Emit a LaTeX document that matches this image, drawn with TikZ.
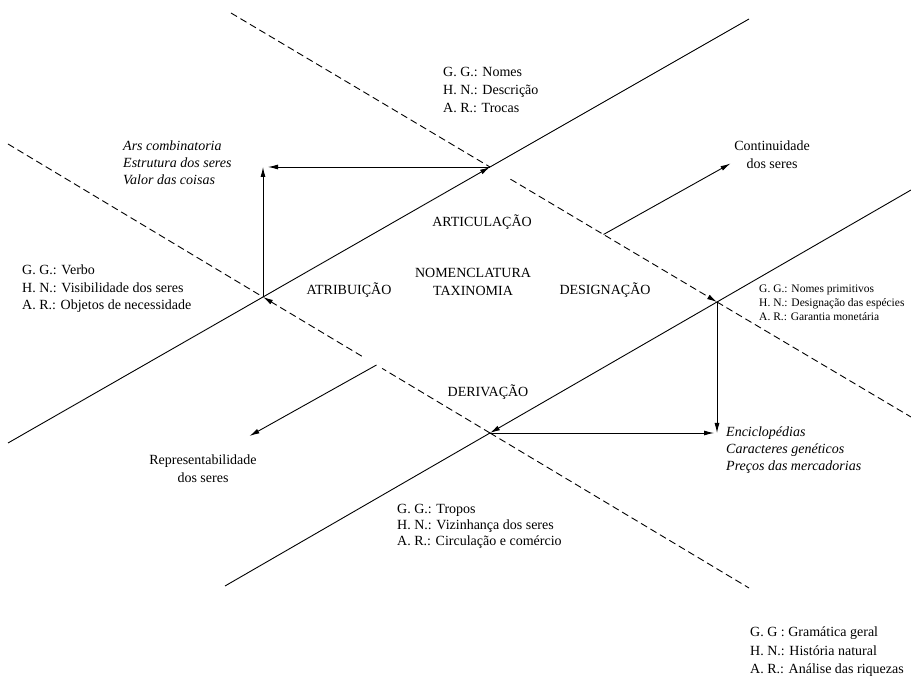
\documentclass[tikz,border=0pt]{standalone}
\usepackage{fontspec}
\setmainfont{Liberation Serif}
\usetikzlibrary{calc,arrows.meta,positioning}

\tikzset{
    axisline/.style={line width=0.9pt},
    dashline/.style={line width=0.9pt, dash pattern=on 7pt off 4pt},
    arr/.style={-{Latex[length=10pt,width=5pt]}, line width=0.9pt},
    infotext/.style={inner sep=0pt, anchor=north west, align=left, font=\fontsize{14pt}{17.5pt}\selectfont},
    smallinfo/.style={inner sep=0pt, anchor=north west, align=left, font=\fontsize{11.5pt}{14pt}\selectfont},
    itinfo/.style={infotext, font=\fontsize{14pt}{17pt}\selectfont\itshape},
    region/.style={inner sep=0pt, font=\fontsize{14pt}{17pt}\selectfont}
}

\begin{document}
\begin{tikzpicture}[x=1pt,y=-1pt]
\useasboundingbox (0,0) rectangle (911,684);

% Four corners of the central rhombus
\coordinate (L) at (263,297);
\coordinate (T) at (490,167);
\coordinate (R) at (717,302);
\coordinate (B) at (490,433);

% Far ends of the two solid and two dashed lines
\coordinate (A1) at (8,443);
\coordinate (A2) at (749,19);
\coordinate (B1) at (225,586);
\coordinate (B2) at (911,190);
\coordinate (C1) at (231,13);
\coordinate (C2) at (911,417);
\coordinate (D1) at (8,144);
\coordinate (D2) at (749,588);

% Solid lines (rising)
\draw[axisline] (A1) -- (L);
\draw[arr] (L) -- (T);
\draw[axisline] (T) -- (A2);
\draw[axisline] (B1) -- (B);
\draw[arr] (R) -- (B);
\draw[axisline] (R) -- (B2);

% Dashed lines (falling), with the small breaks of the original
\draw[dashline] (C1) -- (T);
\draw[arr, dashline] ($(T)!0.09!(R)$) -- (R);
\draw[dashline] (R) -- (C2);
\draw[dashline] (D1) -- (L);
\draw[dashline] (B) -- ($(L)!0.525!(B)$);
\draw[arr, dashline] ($(L)!0.435!(B)$) -- (L);
\draw[dashline] (B) -- (D2);

% Corner arrows
\coordinate (ArsC) at (263,167);
\coordinate (EncC) at (717,433);
\draw[arr] (L) -- (ArsC);
\draw[arr] (T) -- ($(ArsC)+(5,0)$);
\draw[arr] (R) -- (EncC);
\draw[arr] (B) -- ($(EncC)+(-3,0)$);

% Outward arrows from the dashed edges
\coordinate (Cm) at ($(T)!0.5!(R)$);
\coordinate (Dm) at ($(L)!0.5!(B)$);
\draw[arr] (Cm) -- ($(Cm)+(127,-71)$);
\draw[arr] (Dm) -- ($(Dm)+(-127,71)$);

% Region names
\node[region] (artic) at (482,222) {ARTICULAÇÃO};
\node[region] (atrib) at (349,290) {ATRIBUIÇÃO};
\node[region] (desig) at (605,290) {DESIGNAÇÃO};
\node[region] (deriv) at (488,392) {DERIVAÇÃO};
\node[region, align=center, font=\fontsize{14pt}{18pt}\selectfont] (nomen) at (473,282) {NOMENCLATURA\\TAXINOMIA};

% Side texts
\node[infotext, font=\fontsize{14pt}{18pt}\selectfont] (topinfo) at (443,67) {G. G.: Nomes\\H. N.: Descrição\\A. R.: Trocas};
\node[itinfo] (ars) at (123,141) {Ars combinatoria\\Estrutura dos seres\\Valor das coisas};
\node[infotext] (leftinfo) at (22,265) {G. G.: Verbo\\H. N.: Visibilidade dos seres\\A. R.: Objetos de necessidade};
\node[smallinfo] (rightinfo) at (759,285) {G. G.: Nomes primitivos\\H. N.: Designação das espécies\\A. R.: Garantia monetária};
\node[itinfo] (encic) at (726,427) {Enciclopédias\\Caracteres genéticos\\Preços das mercadorias};
\node[infotext, font=\fontsize{14pt}{16pt}\selectfont] (botinfo) at (397,504) {G. G.: Tropos\\H. N.: Vizinhança dos seres\\A. R.: Circulação e comércio};
\node[infotext, anchor=north, align=center] (contin) at (772,141) {Continuidade\\dos seres};
\node[infotext, anchor=north, align=center] (repres) at (203,455) {Representabilidade\\dos seres};

% Key to the abbreviations
\node[infotext, font=\fontsize{14pt}{18.5pt}\selectfont] (legend) at (750,627) {G. G : Gramática geral\\H. N.: História natural\\A. R.: Análise das riquezas};

\end{tikzpicture}
\end{document}
